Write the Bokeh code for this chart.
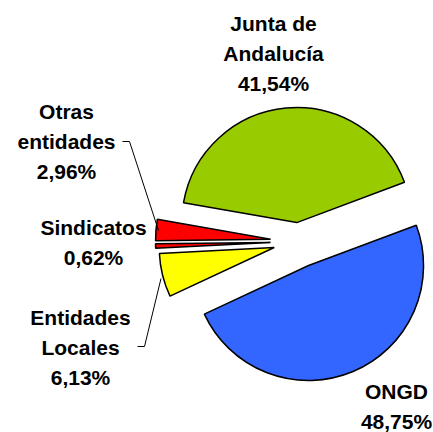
import math
from bokeh.plotting import figure
from bokeh.models import Range1d, ColumnDataSource
from bokeh.core.properties import value
from bokeh.embed import file_html
from bokeh.resources import INLINE

# ---- data ----
categories = ["Junta de Andalucía", "Otras entidades", "Sindicatos", "Entidades Locales", "ONGD"]
label_lines = [["Junta de", "Andalucía"], ["Otras", "entidades"], ["Sindicatos"], ["Entidades", "Locales"], ["ONGD"]]
shares = [41.54, 2.96, 0.62, 6.13, 48.75]
pct_labels = ["41,54%", "2,96%", "0,62%", "6,13%", "48,75%"]
colors = ["#99CC00", "#FF0000", "#FF0000", "#FFFF00", "#3366FF"]

# ---- styling / layout (screen-pixel based; data y = 432 - screen y) ----
W, H = 433, 432
def sy(y):
    return H - y

start_deg = 20.5
center = (298.0, sy(241.0))
explode = [19, 28, 28, 25, 26]
radius = 115

# label positions: first line center (screen coords) and line spacing
label_pos = [(273, 23), (66, 111), (93, 227), (80, 317), (396, 391)]
line_gap = 30.0

# leader lines (screen coords)
leaders = [
    None,
    [(122, 141), (129, 141), (158, 230)],
    None,
    [(137, 346), (144, 346), (160.5, 278)],
    None,
]

p = figure(width=W, height=H, x_range=Range1d(0, W), y_range=Range1d(0, H),
           output_backend="svg", toolbar_location=None, x_axis_type=None, y_axis_type=None,
           min_border=0)
p.outline_line_color = None
p.grid.visible = False
p.background_fill_color = "white"

total = sum(shares)
xs, ys, sa, ea = [], [], [], []
a = math.radians(start_deg)
for s, d in zip(shares, explode):
    span = 2 * math.pi * s / total
    mid = a + span / 2
    xs.append(center[0] + d * math.cos(mid))
    ys.append(center[1] + d * math.sin(mid))
    sa.append(a)
    ea.append(a + span)
    a += span

src = ColumnDataSource(dict(x=xs, y=ys, start=sa, end=ea, color=colors))
p.wedge(x="x", y="y", radius=radius, start_angle="start", end_angle="end",
        fill_color="color", line_color="black", line_width=1.5, source=src)

for pts in leaders:
    if pts:
        p.line([q[0] for q in pts], [sy(q[1]) for q in pts], line_color="black", line_width=1)

tx, ty, tt = [], [], []
for lines, pct, (lx, ly) in zip(label_lines, pct_labels, label_pos):
    allines = lines + [pct]
    for i, t in enumerate(allines):
        tx.append(lx)
        ty.append(sy(ly + i * line_gap))
        tt.append(t)

p.text(x=tx, y=ty, text=tt, text_font=value("Liberation Sans"), text_font_style="bold",
       text_font_size="21px", text_align="center", text_baseline="middle", text_color="black")

open("out.html", "w").write(file_html(p, INLINE))
